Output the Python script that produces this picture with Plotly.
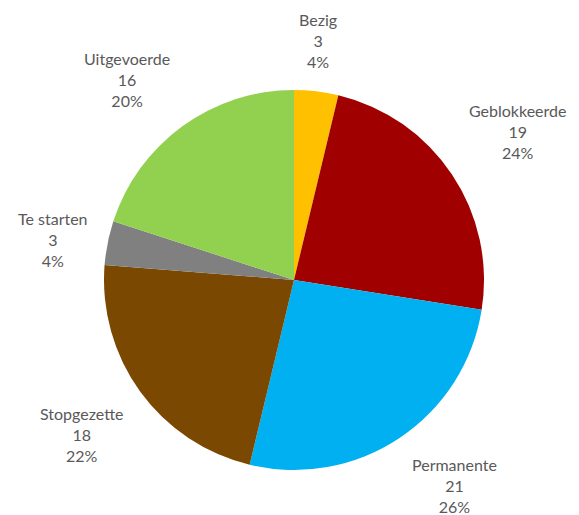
import math
import plotly.graph_objects as go

categories = ["Bezig", "Geblokkeerde", "Permanente", "Stopgezette", "Te starten", "Uitgevoerde"]
values = [3, 19, 21, 18, 3, 16]
colors = ["#FFC000", "#A00000", "#00B0F0", "#7A4800", "#808080", "#92D050"]

# the page body adds an 8px margin; the figure fills the rest of the window
OFF = 8
W, H = 579 - OFF, 515 - OFF
# pie geometry in window pixels (center, radius)
CX, CY, R = 294 - OFF, 280 - OFF, 190
GAP = 18

fig = go.Figure(go.Pie(
    labels=categories, values=values, sort=False, direction="clockwise", rotation=0,
    marker=dict(colors=colors, line=dict(width=0)),
    textinfo="none", hoverinfo="label+value+percent", showlegend=False,
    domain=dict(x=[(CX - R) / W, (CX + R) / W], y=[1 - (CY + R) / H, 1 - (CY - R) / H]),
))

total = sum(values)
cum = 0
annotations = []
for name, v in zip(categories, values):
    mid = (cum + v / 2) / total * 2 * math.pi
    cum += v
    s, c = math.sin(mid), math.cos(mid)
    px = CX + (R + GAP) * s
    py = CY - (R + GAP) * c
    xa = "left" if s > 0.3 else ("right" if s < -0.3 else "center")
    ya = "bottom" if c > 0.3 else ("top" if c < -0.3 else "middle")
    pct = round(v / total * 100)
    annotations.append(dict(
        x=px / W, y=1 - py / H, xref="paper", yref="paper",
        text=f"{name}<br>{v}<br>{pct}%", showarrow=False,
        xanchor=xa, yanchor=ya, align="center",
        font=dict(family="Lato", size=16, color="#595959"),
    ))

fig.update_layout(
    width=W, height=H, margin=dict(l=0, r=0, t=0, b=0),
    paper_bgcolor="white", plot_bgcolor="white",
    annotations=annotations,
)
fig.write_html("out.html")
